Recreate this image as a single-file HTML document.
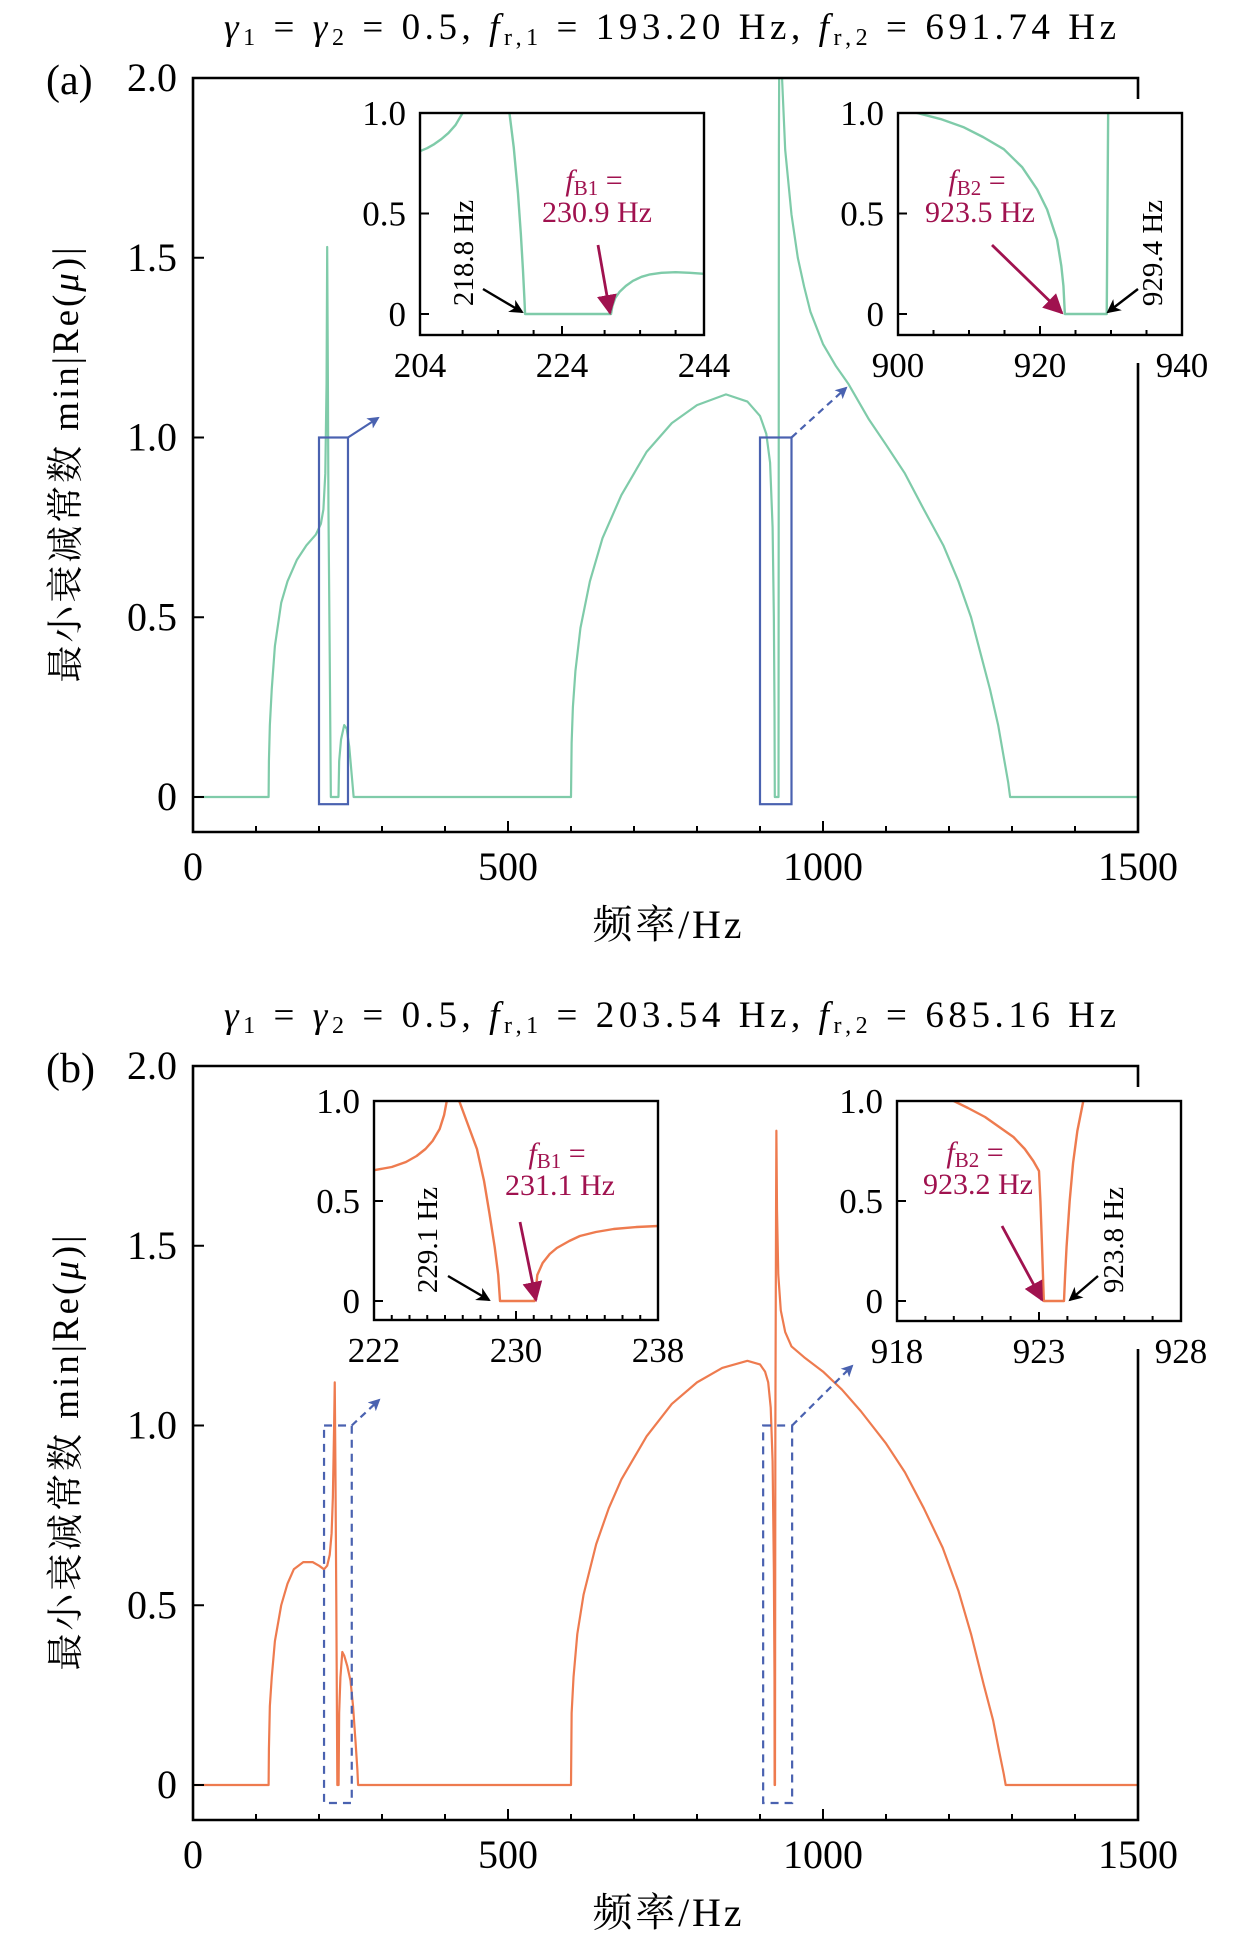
<!DOCTYPE html>
<html><head><meta charset="utf-8">
<style>
html,body{margin:0;padding:0;background:#fff;}
svg{display:block;font-family:"Liberation Serif","Noto Serif CJK SC",serif;}
</style></head>
<body>
<svg id="fig" width="1260" height="1941" viewBox="0 0 1260 1941" xmlns="http://www.w3.org/2000/svg">
<defs>
<marker id="mk-blue" markerWidth="12" markerHeight="12" refX="10" refY="6" orient="auto" markerUnits="userSpaceOnUse" viewBox="0 0 12 12"><path d="M0,0 L12,6 L0,12 L3,6 z" fill="#4a62b0"/></marker>
<marker id="mk-black" markerWidth="14" markerHeight="14" refX="12" refY="7" orient="auto" markerUnits="userSpaceOnUse" viewBox="0 0 14 14"><path d="M0,0 L14,7 L0,14 L4,7 z" fill="#000"/></marker>
<marker id="mk-mag" markerWidth="20" markerHeight="20" refX="18" refY="10" orient="auto" markerUnits="userSpaceOnUse" viewBox="0 0 20 20"><path d="M0,0 L20,10 L0,20 z" fill="#a0124f"/></marker>
</defs>
</svg>
<script>
// ---------- data ----------
const mainTicksX = [0, 500, 1000, 1500];
const mainTicksY = [0, 0.5, 1.0, 1.5, 2.0];
const mainTickLabelsY = ["0", "0.5", "1.0", "1.5", "2.0"];
const insetTicksY = [0, 0.5, 1.0];
const insetTickLabelsY = ["0", "0.5", "1.0"];

const aFreq = [0,120,120.5,122,125,130,140,150,165,180,195,203,207,210,212,213,214,215,217,218.8,230.9,232,235,240,244,248,252,255,600,601,603,607,615,630,650,680,720,760,800,846,880,900,910,916,920,922,923,923.5,929.4,930,931,935,940,950,960,970,980,1000,1020,1040,1073,1100,1130,1160,1191,1215,1235,1250,1265,1278,1288,1294,1297,1500];
const aVal  = [0,0,0.1,0.2,0.3,0.42,0.54,0.6,0.66,0.7,0.73,0.76,0.8,0.9,1.15,1.53,1.2,0.8,0.4,0,0,0.1,0.16,0.2,0.19,0.14,0.06,0,0,0.15,0.25,0.35,0.47,0.6,0.72,0.84,0.96,1.04,1.09,1.12,1.1,1.06,1.01,0.93,0.75,0.5,0.25,0,0,1.8,2.3,2.0,1.8,1.62,1.5,1.42,1.35,1.26,1.2,1.15,1.05,0.98,0.9,0.8,0.7,0.6,0.5,0.4,0.3,0.2,0.1,0.04,0,0];

const bFreq = [0,120,120.5,122,125,130,140,150,160,175,190,200,208,213,217,220,222,224,225,226,227.5,229.1,231.1,232,234,237,240,245,250,254,258,261,262,600,601,604,610,620,640,660,680,720,760,800,840,880,900,908,913,917,920,922,923,923.2,923.8,924.4,925.5,926,927,929,933,940,950,970,1000,1030,1060,1100,1130,1160,1190,1215,1235,1255,1270,1280,1287,1290,1500];
const bVal  = [0,0,0.1,0.22,0.3,0.4,0.5,0.56,0.6,0.62,0.62,0.61,0.6,0.61,0.64,0.7,0.8,1.0,1.12,0.9,0.5,0,0,0.2,0.3,0.37,0.36,0.33,0.29,0.22,0.12,0.04,0,0,0.2,0.3,0.42,0.53,0.67,0.77,0.85,0.97,1.06,1.12,1.16,1.18,1.17,1.15,1.12,1.05,0.9,0.6,0.3,0,0,1.0,1.6,1.82,1.6,1.42,1.32,1.26,1.22,1.19,1.15,1.1,1.04,0.95,0.87,0.77,0.66,0.54,0.42,0.28,0.18,0.09,0.03,0,0];

const a1Freq = [204,205,206,207,208,209,210,211,215,216.6,217.2,217.8,218.2,218.5,218.7,218.8,230.9,231.1,231.5,232.1,233,234,235.2,236.4,238,240,242,244];
const a1Val  = [0.81,0.825,0.845,0.87,0.9,0.94,1.0,1.1,1.1,1.0,0.83,0.6,0.4,0.22,0.08,0,0,0.04,0.08,0.11,0.14,0.165,0.185,0.197,0.205,0.208,0.205,0.2];
const a2Freq = [900,902.7,906,909.2,912,914.9,917.5,919.6,921,922.4,923,923.3,923.5,929.4,929.5,929.6,930];
const a2Val  = [1.03,1.0,0.97,0.93,0.88,0.82,0.73,0.62,0.52,0.37,0.24,0.14,0,0,0.5,1.0,1.2];
const b1Freq = [222,223,223.8,224.4,224.9,225.3,225.7,225.95,226.1,226.4,226.8,227.3,227.8,228.2,228.5,228.8,229.0,229.1,231.05,231.2,231.5,231.9,232.3,233,233.6,234.5,235.5,236.8,238];
const b1Val  = [0.654,0.67,0.695,0.725,0.76,0.8,0.86,0.93,1.0,1.05,1.0,0.88,0.76,0.6,0.44,0.27,0.13,0,0,0.13,0.19,0.235,0.265,0.3,0.325,0.345,0.36,0.37,0.375];
const b2Freq = [918,920,920.5,921.1,921.6,922.1,922.5,922.8,923.0,923.05,923.1,923.17,923.88,923.92,923.97,924.08,924.2,924.35,924.56,924.7];
const b2Val  = [1.1,1.0,0.965,0.92,0.87,0.82,0.76,0.7,0.65,0.5,0.3,0,0,0.13,0.27,0.5,0.69,0.85,1.0,1.1];

const svg = document.getElementById('fig');
const NS = 'http://www.w3.org/2000/svg';
function mk(tag, attrs, parent){
  const e = document.createElementNS(NS, tag);
  for (const k in attrs) e.setAttribute(k, attrs[k]);
  (parent||svg).appendChild(e);
  return e;
}
let clipId = 0;
function clip(x,y,w,h){
  const id='clip'+(clipId++);
  const cp = mk('clipPath',{id:id});
  mk('rect',{x:x,y:y,width:w,height:h},cp);
  return 'url(#'+id+')';
}
function linePath(fs, vs, sx, sy){
  let d='';
  for(let i=0;i<fs.length;i++){ d += (i?'L':'M') + sx(fs[i]).toFixed(2)+','+sy(vs[i]).toFixed(2); }
  return d;
}

function panel(dy, opts){
  const L=193, R=1138, T=78+dy, Y0=797+dy, B=832+dy;
  const sx = f => L + (f-0)/1500*(R-L);
  const sy = v => Y0 - v*(Y0-T)/2;
  const g = mk('g',{});
  
  
  const t = mk('text',{x:670,y:39+dy,'text-anchor':'middle','font-size':37,textLength:892,lengthAdjust:'spacing'},g);
  
  
  t.innerHTML = opts.title;
  const lab = mk('text',{x:46,y:94+dy,'font-size':42},g);
  
  
  lab.textContent = opts.label;
  const cp = clip(L,T,R-L,B-T);
  const cg = mk('g',{'clip-path':cp},g);
  const p = mk('path',{d:linePath(opts.f,opts.v,sx,sy),fill:'none',stroke:opts.color,'stroke-width':2.2,'stroke-linejoin':'round'},cg);
  
  
  opts.boxes.forEach((bx,i)=>{
    const r = mk('rect',{x:sx(bx[0]),y:sy(1.0),width:sx(bx[1])-sx(bx[0]),height:sy(bx[2])-sy(1.0),fill:'none',stroke:'#4a62b0','stroke-width':2.2,'stroke-dasharray':opts.dash},g);
    
    
    const a = mk('line',{x1:sx(bx[1]),y1:sy(1.0),x2:bx[3],y2:bx[4]+dy,stroke:'#4a62b0','stroke-width':2.2,'stroke-dasharray':(i==0&&opts.dash==='none')?'none':'7,5','marker-end':'url(#mk-blue)'},g);
    
    
  });
  const sp = mk('path',{d:`M${L},${T}L${R},${T}L${R},${B}L${L},${B}Z`,fill:'none',stroke:'#000','stroke-width':2.6},g);
  
  
  for(let f=0;f<=1500;f+=100){
    const major = f%500===0;
    mk('line',{x1:sx(f),y1:B,x2:sx(f),y2:B-(major?11:6),stroke:'#000','stroke-width':2},g);
  }
  mainTicksX.forEach(f=>{
    const tx = mk('text',{x:sx(f),y:880+dy,'text-anchor':'middle','font-size':40},g);
    
    
    tx.textContent = f;
  });
  mainTicksY.forEach((v,i)=>{
    mk('line',{x1:L,y1:sy(v),x2:L+11,y2:sy(v),stroke:'#000','stroke-width':2},g);
    const ty = mk('text',{x:177,y:sy(v)+13,'text-anchor':'end','font-size':40},g);
    
    
    ty.textContent = mainTickLabelsY[i];
  });
  const yl = mk('text',{x:0,y:0,'text-anchor':'middle','font-size':37,textLength:435,lengthAdjust:'spacing',transform:`translate(78,${465+dy}) rotate(-90)`},g);
  
  
  yl.innerHTML = '最小衰减常数 min|Re(<tspan font-style="italic">μ</tspan>)|';
  const xl = mk('text',{x:667,y:938+dy,'text-anchor':'middle','font-size':40,textLength:149,lengthAdjust:'spacing'},g);
  
  
  xl.textContent = '频率/Hz';
  opts.insets.forEach(ins=>inset(g, ins, dy, opts.color));
}

function inset(parent, o, dy, color){
  const L=o.L, R=o.R, T=o.T+dy, Y0=o.Y0+dy, B=o.B+dy;
  const sx = f => L + (f-o.x0)/(o.x1-o.x0)*(R-L);
  const sy = v => Y0 - v*(Y0-T);
  const g = mk('g',{},parent);
  
  
  mk('rect',{x:L-o.bgl,y:T-14,width:R-L+o.bgl+50,height:B-T+42,fill:'#fff'},g);
  const cp = clip(L,T,R-L,B-T);
  const cg = mk('g',{'clip-path':cp},g);
  const p = mk('path',{d:linePath(o.f,o.v,sx,sy),fill:'none',stroke:color,'stroke-width':2.4,'stroke-linejoin':'round'},cg);
  
  
  mk('rect',{x:L,y:T,width:R-L,height:B-T,fill:'none',stroke:'#000','stroke-width':2.4},g);
  o.minor.forEach(f=>{
    const major = o.major.indexOf(f)>=0;
    mk('line',{x1:sx(f),y1:B,x2:sx(f),y2:B-(major?9:5),stroke:'#000','stroke-width':2},g);
  });
  o.major.forEach(f=>{
    const tx = mk('text',{x:sx(f),y:B+42,'text-anchor':'middle','font-size':35},g);
    
    
    tx.textContent = f;
  });
  insetTicksY.forEach((v,i)=>{
    mk('line',{x1:L,y1:sy(v),x2:L+9,y2:sy(v),stroke:'#000','stroke-width':2},g);
    const ty = mk('text',{x:L-14,y:sy(v)+12,'text-anchor':'end','font-size':35},g);
    
    
    ty.textContent = insetTickLabelsY[i];
  });
  const rl = mk('text',{x:0,y:0,'text-anchor':'middle','font-size':29,transform:`translate(${o.rot[0]+10},${o.rot[1]+dy}) rotate(-90)`},g);
  
  
  rl.textContent = o.rotText;
  const ba = mk('line',{x1:o.barr[0],y1:o.barr[1]+dy,x2:o.barr[2],y2:o.barr[3]+dy,stroke:'#000','stroke-width':2.4,'marker-end':'url(#mk-black)'},g);
  
  
  const m1 = mk('text',{x:o.mt[0],y:o.mt[1]+dy,'text-anchor':'middle','font-size':30,fill:'#a0124f'},g);
  
  
  m1.innerHTML = '<tspan font-style="italic">f</tspan><tspan font-size="21" dy="5">'+o.sub+'</tspan><tspan dy="-5"> =</tspan>';
  const m2 = mk('text',{x:o.mt[0]+3,y:o.mt[1]+32+dy,'text-anchor':'middle','font-size':30,fill:'#a0124f'},g);
  
  
  m2.textContent = o.mText;
  const ma = mk('line',{x1:o.marr[0],y1:o.marr[1]+dy,x2:o.marr[2],y2:o.marr[3]+dy,stroke:'#a0124f','stroke-width':2.8,'marker-end':'url(#mk-mag)'},g);
  
  
}
function range(a,b,s){const r=[];for(let x=a;x<=b+1e-9;x+=s)r.push(+x.toFixed(3));return r;}

panel(0,{
  name:'panel-a', label:'(a)', color:'#7fcba9', dash:'none',
  title:'<tspan font-style="italic">γ</tspan><tspan font-size="24" dy="6">1</tspan><tspan dy="-6"> = </tspan><tspan font-style="italic">γ</tspan><tspan font-size="24" dy="6">2</tspan><tspan dy="-6"> = 0.5, </tspan><tspan font-style="italic">f</tspan><tspan font-size="24" dy="6">r,1</tspan><tspan dy="-6"> = 193.20 Hz, </tspan><tspan font-style="italic">f</tspan><tspan font-size="24" dy="6">r,2</tspan><tspan dy="-6"> = 691.74 Hz</tspan>',
  f:aFreq, v:aVal,
  boxes:[[200,246,-0.02,378,418],[900,950,-0.02,846,388]],
  insets:[
    {name:'inset-a1',L:420,R:704,T:113,Y0:314,B:335,x0:204,x1:244,f:a1Freq,v:a1Val,bgl:78,
     major:[204,224,244],minor:[204,210,215,220,224,230,235,240,244],
     rot:[463,253],rotText:'218.8 Hz',barr:[483,289,522,312],
     mt:[594,190],sub:'B1',mText:'230.9 Hz',marr:[598,245,610,313]},
    {name:'inset-a2',L:898,R:1182,T:113,Y0:314,B:335,x0:900,x1:940,f:a2Freq,v:a2Val,bgl:62,
     major:[900,920,940],minor:[900,905,910,915,920,925,930,935,940],
     rot:[1152,253],rotText:'929.4 Hz',barr:[1138,289,1108,312],
     mt:[977,190],sub:'B2',mText:'923.5 Hz',marr:[992,245,1062,313]}
  ]
});
panel(988,{
  name:'panel-b', label:'(b)', color:'#ee7b4f', dash:'8,6',
  title:'<tspan font-style="italic">γ</tspan><tspan font-size="24" dy="6">1</tspan><tspan dy="-6"> = </tspan><tspan font-style="italic">γ</tspan><tspan font-size="24" dy="6">2</tspan><tspan dy="-6"> = 0.5, </tspan><tspan font-style="italic">f</tspan><tspan font-size="24" dy="6">r,1</tspan><tspan dy="-6"> = 203.54 Hz, </tspan><tspan font-style="italic">f</tspan><tspan font-size="24" dy="6">r,2</tspan><tspan dy="-6"> = 685.16 Hz</tspan>',
  f:bFreq, v:bVal,
  boxes:[[208,252,-0.05,379,412],[905,951,-0.05,852,378]],
  insets:[
    {name:'inset-b1',L:374,R:658,T:113,Y0:313,B:332,x0:222,x1:238,f:b1Freq,v:b1Val,bgl:78,
     major:[222,230,238],minor:range(222,238,1),
     rot:[427,252],rotText:'229.1 Hz',barr:[448,288,489,312],
     mt:[557,175],sub:'B1',mText:'231.1 Hz',marr:[520,234,536,312]},
    {name:'inset-b2',L:897,R:1181,T:113,Y0:313,B:333,x0:918,x1:928,f:b2Freq,v:b2Val,bgl:62,
     major:[918,923,928],minor:range(918,928,1),
     rot:[1113,252],rotText:'923.8 Hz',barr:[1098,288,1070,312],
     mt:[975,174],sub:'B2',mText:'923.2 Hz',marr:[1002,238,1042,312]}
  ]
});
</script>
</body></html>
